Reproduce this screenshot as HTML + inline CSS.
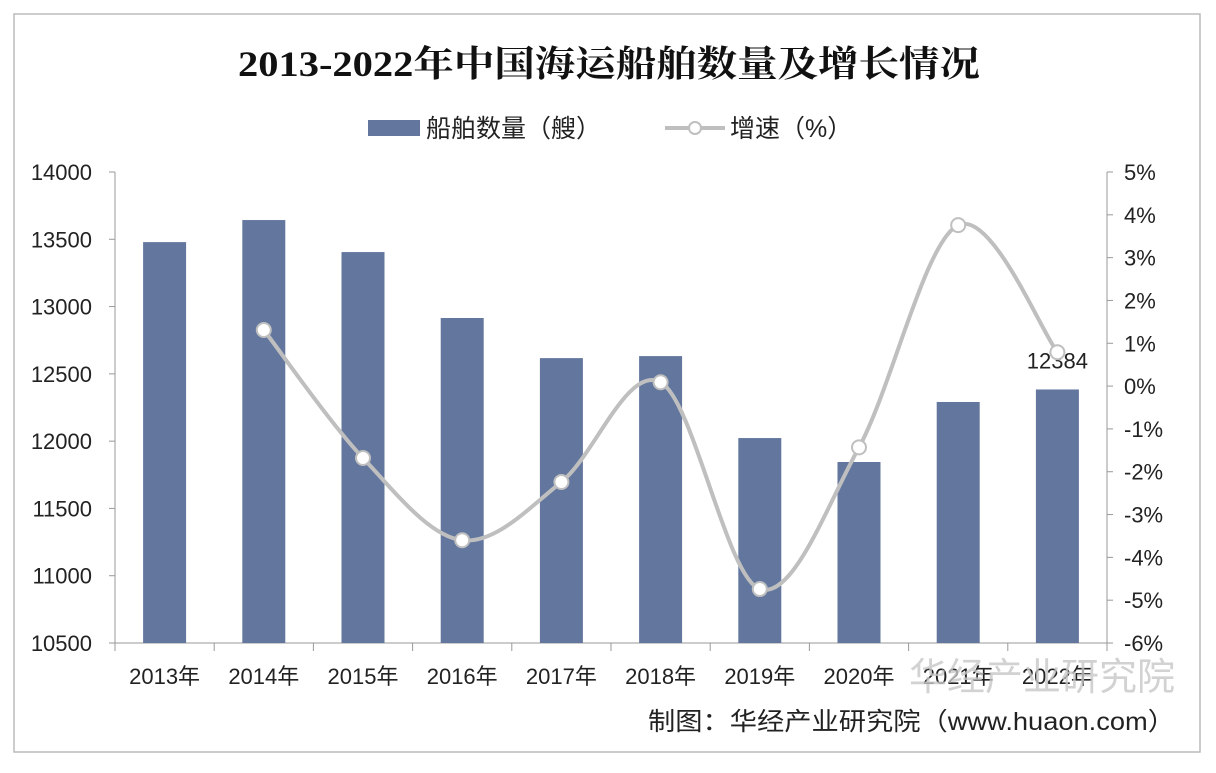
<!DOCTYPE html>
<html><head><meta charset="utf-8"><style>
body{margin:0;background:#fff;}
svg text{font-family:"Liberation Sans","Noto Sans CJK SC",sans-serif;}
</style></head><body>
<svg width="1216" height="768" viewBox="0 0 1216 768">
<rect x="14" y="14" width="1186" height="738" fill="#fff" stroke="#bbb" stroke-width="1.5"/>
<text x="238" y="76" textLength="742" lengthAdjust="spacingAndGlyphs" font-size="36" font-weight="bold" style="font-family:'Liberation Serif','Noto Serif CJK SC',serif" fill="#111">2013-2022年中国海运船舶数量及增长情况</text>
<g>
<rect x="368" y="120" width="52" height="16" fill="#63779e"/>
<text x="426" y="137" font-size="25" fill="#222">船舶数量（艘）</text>
<line x1="665" y1="128" x2="725" y2="128" stroke="#bfbfbf" stroke-width="4"/>
<circle cx="695" cy="128" r="6" fill="#fff" stroke="#bfbfbf" stroke-width="2"/>
<text x="730" y="137" font-size="25" fill="#222">增速（%）</text>
</g>
<g id="plot"></g>
<text x="1175" y="690" text-anchor="end" font-size="38" fill="#c8c8c8" opacity="0.8">华经产业研究院</text>
<text x="648" y="730" textLength="527" lengthAdjust="spacingAndGlyphs" font-size="25" fill="#222">制图：华经产业研究院（www.huaon.com）</text>
</svg>
<script>
const categories=["2013年","2014年","2015年","2016年","2017年","2018年","2019年","2020年","2021年","2022年"];
const ships=[13479,13643,13405,12915,12617,12632,12023,11845,12291,12384];
const growth=[null,1.31,-1.68,-3.6,-2.24,0.09,-4.74,-1.43,3.76,0.79];
const leftTicks=[10500,11000,11500,12000,12500,13000,13500,14000];
const rightTicks=[-6,-5,-4,-3,-2,-1,0,1,2,3,4,5];
const NS="http://www.w3.org/2000/svg";
const g=document.getElementById('plot');
const X0=115,X1=1107,Y0=643,Y1=172;
const bw=(X1-X0)/categories.length;
const xc=i=>X0+bw*(i+0.5);
const yl=v=>Y0-(v-10500)/3500*(Y0-Y1);
const yr=v=>Y0-(v+6)/11*(Y0-Y1);
function el(t,a){const e=document.createElementNS(NS,t);for(const k in a)e.setAttribute(k,a[k]);g.appendChild(e);return e;}
let ax=el('line',{x1:X0,y1:Y1,x2:X0,y2:Y0,stroke:'#999'});

ax=el('line',{x1:X1,y1:Y1,x2:X1,y2:Y0,stroke:'#999'});

ax=el('line',{x1:X0,y1:Y0,x2:X1,y2:Y0,stroke:'#999'});

leftTicks.forEach(v=>{const y=yl(v);el('line',{x1:X0-6,y1:y,x2:X0,y2:y,stroke:'#999'});
const t=el('text',{x:92,y:y+8,'text-anchor':'end','font-size':22,fill:'#222'});t.textContent=v;
});
rightTicks.forEach(v=>{const y=yr(v);el('line',{x1:X1,y1:y,x2:X1+6,y2:y,stroke:'#999'});
const t=el('text',{x:1124,y:y+8,'font-size':22,fill:'#222'});t.textContent=v+'%';
});
for(let i=0;i<=categories.length;i++)el('line',{x1:X0+bw*i,y1:Y0,x2:X0+bw*i,y2:Y0+8,stroke:'#999'});
categories.forEach((c,i)=>{
const r=el('rect',{x:xc(i)-21.5,y:yl(ships[i]),width:43,height:Y0-yl(ships[i]),fill:'#63779e'});

const t=el('text',{x:xc(i),y:684,'text-anchor':'middle','font-size':22,fill:'#222'});t.textContent=c;
});
const lab=el('text',{x:xc(9),y:yl(ships[9])-21,'text-anchor':'middle','font-size':22,fill:'#222'});
lab.textContent=ships[9];
const pts=[];growth.forEach((v,i)=>{if(v!==null)pts.push([xc(i),yr(v)]);});
let d='M'+pts[0][0]+','+pts[0][1];
for(let i=0;i<pts.length-1;i++){const p0=pts[Math.max(0,i-1)],p1=pts[i],p2=pts[i+1],p3=pts[Math.min(pts.length-1,i+2)];
const c1=[p1[0]+(p2[0]-p0[0])/6,p1[1]+(p2[1]-p0[1])/6],c2=[p2[0]-(p3[0]-p1[0])/6,p2[1]-(p3[1]-p1[1])/6];
d+=` C${c1[0]},${c1[1]} ${c2[0]},${c2[1]} ${p2[0]},${p2[1]}`;}
const ln=el('path',{d:d,fill:'none',stroke:'#bfbfbf','stroke-width':4});

pts.forEach(p=>{const c=el('circle',{cx:p[0],cy:p[1],r:7,fill:'#fff',stroke:'#bfbfbf','stroke-width':2});
});
</script>
</body></html>
